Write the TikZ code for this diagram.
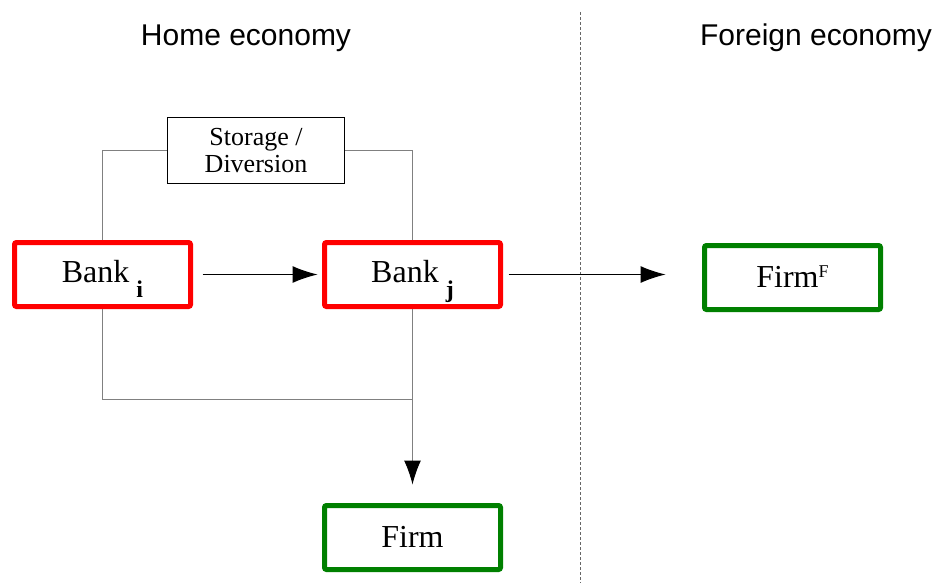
\documentclass[tikz,border=0pt]{standalone}
\usepackage{fontspec}
\setmainfont{Liberation Serif}
\setsansfont{Liberation Sans}
\usetikzlibrary{arrows.meta}
\tikzset{
	bankbox/.style={draw=red, line width=2.5pt, rounded corners=1pt, minimum width=88pt, minimum height=32pt, inner sep=0pt, text height=9.5pt, text depth=2pt, font=\fontsize{16}{18}\selectfont},
	firmbox/.style={bankbox, draw=green!50!black, text height=11.5pt},
	flow/.style={line width=0.5pt, -{Latex[length=12.5pt,width=8.5pt]}},
	link/.style={gray, line width=0.5pt},
	region/.style={font=\sffamily\fontsize{15}{17}\selectfont}
}
\newcommand{\bankidx}[1]{\hspace{3.5pt}\raisebox{-7.5pt}[0pt][0pt]{\fontsize{12}{12}\selectfont\bfseries #1}}
\begin{document}
\begin{tikzpicture}[x=0.5pt,y=-0.5pt]
	\useasboundingbox (0,0) rectangle (935,583);
	\node[region] (home) at (246,38) {Home economy};
	\node[region] (foreign) at (816,38) {Foreign economy};
	\coordinate (bordertop) at (580,12);
	\coordinate (borderbot) at (580,583);
	\draw[line width=0.5pt, gray!80!black, dash pattern=on 1.5pt off 1pt] (bordertop) -- (borderbot);
	\node[draw, line width=0.5pt, minimum width=88.5pt, minimum height=33pt, inner sep=0pt, align=center, font=\fontsize{13}{13.5}\selectfont] (store) at (256,150.5) {Storage /\\Diversion};
	\node[bankbox] (bi) at (102.5,274.5) {Bank\bankidx{i}};
	\node[bankbox] (bj) at (412.5,274.5) {Bank\bankidx{j}};
	\node[firmbox] (ff) at (792.5,277.5) {Firm\raisebox{5pt}{\fontsize{9}{9}\selectfont F}};
	\node[firmbox] (firm) at (412.5,537.5) {Firm};
	\coordinate (join) at (412.5,399);
	\draw[link] (bi.north) |- (store.west);
	\draw[link] (store.east) -| (bj.north);
	\draw[link] (bi.south) |- (join);
	\draw[link, -{Latex[length=12pt,width=8.5pt,color=black]}, shorten >=9.25pt] (bj.south) -- (firm.north);
	\draw[flow, shorten <=4.75pt, shorten >=2.25pt] (bi) -- (bj);
	\draw[flow, shorten <=2.75pt, shorten >=18.25pt] (bj.east) -- (ff.west |- bj.east);
\end{tikzpicture}
\end{document}
